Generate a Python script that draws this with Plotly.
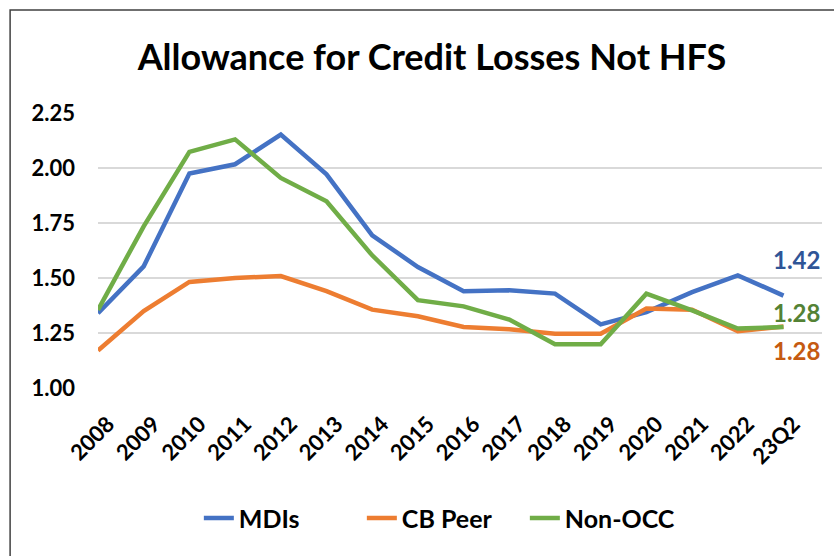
import plotly.graph_objects as go

categories = ["2008", "2009", "2010", "2011", "2012", "2013", "2014", "2015",
              "2016", "2017", "2018", "2019", "2020", "2021", "2022", "23Q2"]
mdis = [1.34, 1.553, 1.975, 2.017, 2.152, 1.971, 1.694, 1.55,
        1.44, 1.444, 1.429, 1.289, 1.345, 1.436, 1.512, 1.42]
cb_peer = [1.17, 1.35, 1.482, 1.50, 1.509, 1.44, 1.356, 1.326,
           1.277, 1.267, 1.247, 1.247, 1.361, 1.356, 1.258, 1.28]
non_occ = [1.355, 1.735, 2.073, 2.13, 1.955, 1.849, 1.603, 1.399,
           1.371, 1.311, 1.199, 1.199, 1.429, 1.353, 1.27, 1.277]
y_ticks = [1.00, 1.25, 1.50, 1.75, 2.00, 2.25]
y_tick_text = ["1.00", "1.25", "1.50", "1.75", "2.00", "2.25"]

series = [("MDIs", mdis, "#4472C4"), ("CB Peer", cb_peer, "#ED7D31"), ("Non-OCC", non_occ, "#70AD47")]

FONT = "Lato"
fig = go.Figure()
for name, vals, col in series:
    fig.add_trace(go.Scatter(x=categories, y=vals, name=name, mode="lines",
                             line=dict(color=col, width=4.5)))

end_labels = [("1.42", mdis[-1], "#2F5597", -36),
              ("1.28", non_occ[-1], "#548235", -15),
              ("1.28", cb_peer[-1], "#C55A11", 24)]
for txt, yv, col, ay in end_labels:
    fig.add_annotation(x=categories[-1], y=yv, text=txt, showarrow=True,
                       arrowcolor="rgba(0,0,0,0)", arrowwidth=0.1, arrowhead=0,
                       ax=13, ay=ay, xanchor="center", yanchor="middle",
                       font=dict(family=FONT, size=24, color=col, weight="bold"))

fig.add_shape(type="rect", xref="paper", yref="paper", x0=-0.1214, y0=-1.0, x1=1.3, y1=1.375,
              line=dict(color="#404040", width=1.5), fillcolor="rgba(0,0,0,0)", layer="below")

fig.update_layout(
    width=834, height=556,
    margin=dict(l=97.5, r=11.5, t=112.7, b=168.3),
    paper_bgcolor="white", plot_bgcolor="white",
    title=dict(text="Allowance for Credit Losses Not HFS", x=0.518, xanchor="center",
               y=0.896, yanchor="middle",
               font=dict(family=FONT, size=36, color="black", weight="bold")),
    xaxis=dict(type="category", tickangle=-45, showgrid=False, showline=False, ticks="",
               tickfont=dict(family=FONT, size=22, color="black", weight="bold"),
               ticklabelstandoff=18, ticklabelshift=10),
    yaxis=dict(range=[1.0, 2.25], tickvals=y_ticks, ticktext=y_tick_text, showgrid=True,
               gridcolor="#D9D9D9", gridwidth=1.5, zeroline=False, showline=False, ticks="",
               tickfont=dict(family=FONT, size=22, color="black", weight="bold"),
               ticklabelstandoff=22),
    legend=dict(orientation="h", x=0.477, xanchor="center", y=-0.474, yanchor="middle",
                font=dict(family=FONT, size=25, color="black", weight="bold"),
                entrywidth=118, entrywidthmode="pixels",
                bgcolor="rgba(0,0,0,0)"),
    showlegend=True,
)

fig.write_html("out.html")
